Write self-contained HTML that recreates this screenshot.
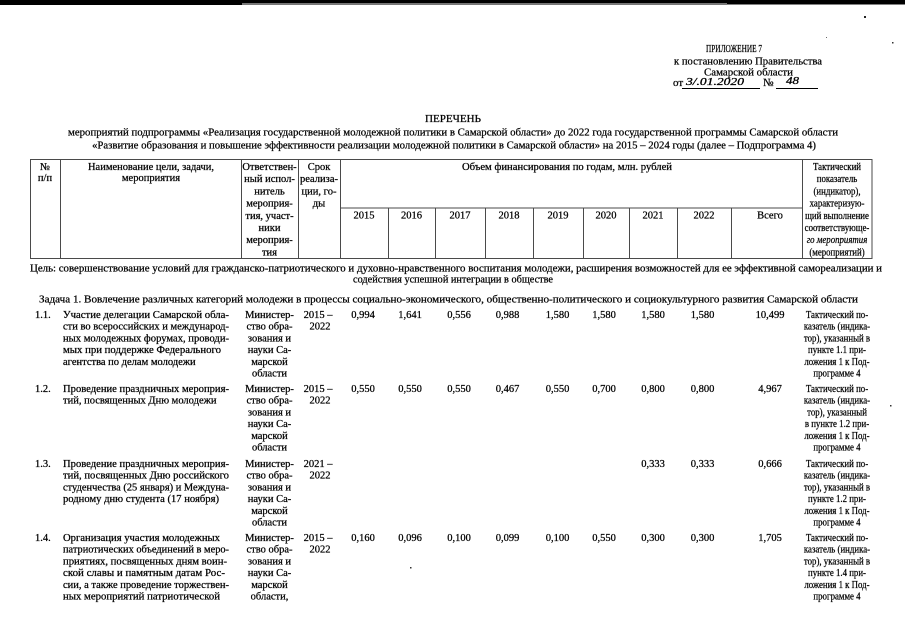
<!DOCTYPE html>
<html><head><meta charset="utf-8"><style>
html,body{margin:0;padding:0;background:#fff;width:905px;height:640px;overflow:hidden}
svg{display:block}
text{font-family:"Liberation Serif","DejaVu Serif",serif;fill:#000;stroke:#000;stroke-width:0.25;font-size:10.5px}
.c{text-anchor:middle}
.big{font-size:11px}
</style></head><body>
<svg width="905" height="640" viewBox="0 0 905 640" xmlns="http://www.w3.org/2000/svg">
<rect x="0" y="0" width="905" height="640" fill="#fff"/>
<!-- top scan bar -->
<rect x="0" y="0" width="905" height="3" fill="#000"/>
<rect x="0" y="0" width="242" height="5" fill="#000"/>
<rect x="242" y="3" width="485" height="2" fill="#777"/>
<rect x="727" y="0" width="178" height="4.5" fill="#000"/>
<!-- specks -->
<rect x="864" y="16" width="2" height="2" fill="#222"/>
<rect x="892" y="42" width="1.5" height="1.5" fill="#333"/>
<rect x="826" y="37" width="1" height="1" fill="#666"/>
<rect x="890" y="405" width="1.5" height="1.5" fill="#333"/>
<rect x="410" y="567" width="1.5" height="1.5" fill="#333"/>

<!-- top right block -->
<text class="big" x="706" y="52" textLength="56" lengthAdjust="spacingAndGlyphs">ПРИЛОЖЕНИЕ 7</text>
<text class="big" x="674" y="64.5" textLength="148" lengthAdjust="spacingAndGlyphs">к постановлению Правительства</text>
<text class="big" x="704" y="75.5" textLength="89" lengthAdjust="spacingAndGlyphs">Самарской области</text>
<text class="big" x="673" y="86">от</text>
<text class="big" x="686" y="85" font-style="italic" textLength="58" lengthAdjust="spacingAndGlyphs" style="stroke-width:0.3">3/.01.2020</text>
<line x1="682" y1="88.5" x2="760" y2="88.5" stroke="#000" stroke-width="0.9"/>
<text class="big" x="763" y="86">№</text>
<text class="big" x="786" y="84" font-style="italic" textLength="13" lengthAdjust="spacingAndGlyphs" style="stroke-width:0.3">48</text>
<line x1="776" y1="88.5" x2="818" y2="88.5" stroke="#000" stroke-width="0.9"/>

<!-- title -->
<text class="big" x="425" y="122" textLength="56" lengthAdjust="spacingAndGlyphs">ПЕРЕЧЕНЬ</text>
<text class="big" x="68" y="135.5" textLength="770" lengthAdjust="spacingAndGlyphs">мероприятий подпрограммы «Реализация государственной молодежной политики в Самарской области» до 2022 года государственной программы Самарской области</text>
<text class="big" x="92" y="148.5" textLength="724" lengthAdjust="spacingAndGlyphs">«Развитие образования и повышение эффективности реализации молодежной политики в Самарской области» на 2015 – 2024 годы (далее – Подпрограмма 4)</text>

<!-- table header grid -->
<g stroke="#4a4a4a" stroke-width="1" fill="none">
<rect x="30.5" y="159.5" width="841.5" height="99"/>
<line x1="60.5" y1="159.5" x2="60.5" y2="258.5"/>
<line x1="241.5" y1="159.5" x2="241.5" y2="258.5"/>
<line x1="298.5" y1="159.5" x2="298.5" y2="258.5"/>
<line x1="340.5" y1="159.5" x2="340.5" y2="258.5"/>
<line x1="802.5" y1="159.5" x2="802.5" y2="258.5"/>
<line x1="340.5" y1="208" x2="802.5" y2="208"/>
<line x1="388.5" y1="208" x2="388.5" y2="258.5"/>
<line x1="435.5" y1="208" x2="435.5" y2="258.5"/>
<line x1="485.5" y1="208" x2="485.5" y2="258.5"/>
<line x1="533.5" y1="208" x2="533.5" y2="258.5"/>
<line x1="583.5" y1="208" x2="583.5" y2="258.5"/>
<line x1="629.5" y1="208" x2="629.5" y2="258.5"/>
<line x1="677.5" y1="208" x2="677.5" y2="258.5"/>
<line x1="731.5" y1="208" x2="731.5" y2="258.5"/>
</g>

<!-- header text -->
<text class="c" x="45" y="170">№</text>
<text class="c" x="45" y="181">п/п</text>
<text class="c" x="151" y="170" textLength="126" lengthAdjust="spacingAndGlyphs">Наименование цели, задачи,</text>
<text class="c" x="151" y="181">мероприятия</text>

<g>
<text class="c" x="269.5" y="170">Ответствен-</text>
<text class="c" x="269.5" y="182.2">ный испол-</text>
<text class="c" x="269.5" y="194.4">нитель</text>
<text class="c" x="269.5" y="206.6">мероприя-</text>
<text class="c" x="269.5" y="218.8">тия, участ-</text>
<text class="c" x="269.5" y="231">ники</text>
<text class="c" x="269.5" y="243.2">мероприя-</text>
<text class="c" x="269.5" y="255.4">тия</text>
</g>
<text class="c" x="319" y="170">Срок</text>
<text class="c" x="319" y="182.2">реализа-</text>
<text class="c" x="319" y="194.4">ции, го-</text>
<text class="c" x="319" y="206.6">ды</text>
<text class="c" x="567" y="170" textLength="210" lengthAdjust="spacingAndGlyphs">Объем финансирования по годам, млн. рублей</text>
<text class="c" x="364" y="218.5">2015</text>
<text class="c" x="411.5" y="218.5">2016</text>
<text class="c" x="460" y="218.5">2017</text>
<text class="c" x="509" y="218.5">2018</text>
<text class="c" x="558" y="218.5">2019</text>
<text class="c" x="606" y="218.5">2020</text>
<text class="c" x="653" y="218.5">2021</text>
<text class="c" x="704" y="218.5">2022</text>
<text class="c" x="770" y="218.5">Всего</text>
<g transform="translate(837 0) scale(0.84 1)">
<text class="c" x="0" y="170">Тактический</text>
<text class="c" x="0" y="182.2">показатель</text>
<text class="c" x="0" y="194.4">(индикатор),</text>
<text class="c" x="0" y="206.6">характеризую-</text>
<text class="c" x="0" y="218.8">щий выполнение</text>
<text class="c" x="0" y="231">соответствующе-</text>
<text class="c" x="0" y="243.2" font-style="italic">го мероприятия</text>
<text class="c" x="0" y="255.4">(мероприятий)</text>
</g>

<!-- goal / task -->
<text x="30" y="271.5" textLength="852" lengthAdjust="spacingAndGlyphs">Цель: совершенствование условий для гражданско-патриотического и духовно-нравственного воспитания молодежи, расширения возможностей для ее эффективной самореализации и</text>
<text class="c" x="453" y="282.5" textLength="200" lengthAdjust="spacingAndGlyphs">содействия успешной интеграции в обществе</text>
<text x="39" y="302.5" textLength="819" lengthAdjust="spacingAndGlyphs">Задача 1. Вовлечение различных категорий молодежи в процессы социально-экономического, общественно-политического и социокультурного развития Самарской области</text>

<!-- Row 1.1 -->
<text x="35" y="318">1.1.</text>
<text x="63" y="318" textLength="166" lengthAdjust="spacingAndGlyphs">Участие делегации Самарской обла-</text>
<text x="63" y="329.7" textLength="166" lengthAdjust="spacingAndGlyphs">сти во всероссийских и международ-</text>
<text x="63" y="341.4" textLength="166" lengthAdjust="spacingAndGlyphs">ных молодежных форумах, проводи-</text>
<text x="63" y="353.1" textLength="158" lengthAdjust="spacingAndGlyphs">мых при поддержке Федерального</text>
<text x="63" y="364.8">агентства по делам молодежи</text>
<text class="c" x="269.5" y="318">Министер-</text>
<text class="c" x="269.5" y="329.7">ство обра-</text>
<text class="c" x="269.5" y="341.4">зования и</text>
<text class="c" x="269.5" y="353.1">науки Са-</text>
<text class="c" x="269.5" y="364.8">марской</text>
<text class="c" x="269.5" y="376.5">области</text>
<text class="c" x="318" y="318">2015 –</text>
<text class="c" x="320" y="329.7">2022</text>
<text class="c" x="363" y="318">0,994</text>
<text class="c" x="410" y="318">1,641</text>
<text class="c" x="459" y="318">0,556</text>
<text class="c" x="507.5" y="318">0,988</text>
<text class="c" x="557.5" y="318">1,580</text>
<text class="c" x="604" y="318">1,580</text>
<text class="c" x="653" y="318">1,580</text>
<text class="c" x="702.5" y="318">1,580</text>
<text class="c" x="770" y="318">10,499</text>
<g transform="translate(837 0) scale(0.84 1)">
<text class="c" x="0" y="318">Тактический по-</text>
<text class="c" x="0" y="329.7">казатель (индика-</text>
<text class="c" x="0" y="341.4">тор), указанный в</text>
<text class="c" x="0" y="353.1">пункте 1.1 при-</text>
<text class="c" x="0" y="364.8">ложения 1 к Под-</text>
<text class="c" x="0" y="376.5">программе 4</text>
</g>

<!-- Row 1.2 -->
<text x="35" y="392">1.2.</text>
<text x="63" y="392" textLength="166" lengthAdjust="spacingAndGlyphs">Проведение праздничных мероприя-</text>
<text x="63" y="403.7">тий, посвященных Дню молодежи</text>
<text class="c" x="269.5" y="392">Министер-</text>
<text class="c" x="269.5" y="403.7">ство обра-</text>
<text class="c" x="269.5" y="415.4">зования и</text>
<text class="c" x="269.5" y="427.1">науки Са-</text>
<text class="c" x="269.5" y="438.8">марской</text>
<text class="c" x="269.5" y="450.5">области</text>
<text class="c" x="318" y="392">2015 –</text>
<text class="c" x="320" y="403.7">2022</text>
<text class="c" x="363" y="392">0,550</text>
<text class="c" x="410" y="392">0,550</text>
<text class="c" x="459" y="392">0,550</text>
<text class="c" x="507.5" y="392">0,467</text>
<text class="c" x="557.5" y="392">0,550</text>
<text class="c" x="604" y="392">0,700</text>
<text class="c" x="653" y="392">0,800</text>
<text class="c" x="702.5" y="392">0,800</text>
<text class="c" x="770" y="392">4,967</text>
<g transform="translate(837 0) scale(0.84 1)">
<text class="c" x="0" y="392">Тактический по-</text>
<text class="c" x="0" y="403.7">казатель (индика-</text>
<text class="c" x="0" y="415.4">тор), указанный</text>
<text class="c" x="0" y="427.1">в пункте 1.2 при-</text>
<text class="c" x="0" y="438.8">ложения 1 к Под-</text>
<text class="c" x="0" y="450.5">программе 4</text>
</g>

<!-- Row 1.3 -->
<text x="35" y="467">1.3.</text>
<text x="63" y="467" textLength="166" lengthAdjust="spacingAndGlyphs">Проведение праздничных мероприя-</text>
<text x="63" y="478.7" textLength="166" lengthAdjust="spacingAndGlyphs">тий, посвященных Дню российского</text>
<text x="63" y="490.4" textLength="166" lengthAdjust="spacingAndGlyphs">студенчества (25 января) и Междуна-</text>
<text x="63" y="502.1" textLength="156" lengthAdjust="spacingAndGlyphs">родному дню студента (17 ноября)</text>
<text class="c" x="269.5" y="467">Министер-</text>
<text class="c" x="269.5" y="478.7">ство обра-</text>
<text class="c" x="269.5" y="490.4">зования и</text>
<text class="c" x="269.5" y="502.1">науки Са-</text>
<text class="c" x="269.5" y="513.8">марской</text>
<text class="c" x="269.5" y="525.5">области</text>
<text class="c" x="318" y="467">2021 –</text>
<text class="c" x="320" y="478.7">2022</text>
<text class="c" x="653" y="467">0,333</text>
<text class="c" x="702.5" y="467">0,333</text>
<text class="c" x="770" y="467">0,666</text>
<g transform="translate(837 0) scale(0.84 1)">
<text class="c" x="0" y="467">Тактический по-</text>
<text class="c" x="0" y="478.7">казатель (индика-</text>
<text class="c" x="0" y="490.4">тор), указанный в</text>
<text class="c" x="0" y="502.1">пункте 1.2 при-</text>
<text class="c" x="0" y="513.8">ложения 1 к Под-</text>
<text class="c" x="0" y="525.5">программе 4</text>
</g>

<!-- Row 1.4 -->
<text x="35" y="541">1.4.</text>
<text x="63" y="541" textLength="157" lengthAdjust="spacingAndGlyphs">Организация участия молодежных</text>
<text x="63" y="552.7" textLength="166" lengthAdjust="spacingAndGlyphs">патриотических объединений в меро-</text>
<text x="63" y="564.4" textLength="164" lengthAdjust="spacingAndGlyphs">приятиях, посвященных дням воин-</text>
<text x="63" y="576.1" textLength="162" lengthAdjust="spacingAndGlyphs">ской славы и памятным датам Рос-</text>
<text x="63" y="587.8" textLength="166" lengthAdjust="spacingAndGlyphs">сии, а также проведение торжествен-</text>
<text x="63" y="599.5" textLength="157" lengthAdjust="spacingAndGlyphs">ных мероприятий патриотической</text>
<text class="c" x="269.5" y="541">Министер-</text>
<text class="c" x="269.5" y="552.7">ство обра-</text>
<text class="c" x="269.5" y="564.4">зования и</text>
<text class="c" x="269.5" y="576.1">науки Са-</text>
<text class="c" x="269.5" y="587.8">марской</text>
<text class="c" x="269.5" y="599.5">области,</text>
<text class="c" x="318" y="541">2015 –</text>
<text class="c" x="320" y="552.7">2022</text>
<text class="c" x="363" y="541">0,160</text>
<text class="c" x="410" y="541">0,096</text>
<text class="c" x="459" y="541">0,100</text>
<text class="c" x="507.5" y="541">0,099</text>
<text class="c" x="557.5" y="541">0,100</text>
<text class="c" x="604" y="541">0,550</text>
<text class="c" x="653" y="541">0,300</text>
<text class="c" x="702.5" y="541">0,300</text>
<text class="c" x="770" y="541">1,705</text>
<g transform="translate(837 0) scale(0.84 1)">
<text class="c" x="0" y="541">Тактический по-</text>
<text class="c" x="0" y="552.7">казатель (индика-</text>
<text class="c" x="0" y="564.4">тор), указанный в</text>
<text class="c" x="0" y="576.1">пункте 1.4 при-</text>
<text class="c" x="0" y="587.8">ложения 1 к Под-</text>
<text class="c" x="0" y="599.5">программе 4</text>
</g>
</svg>
</body></html>
